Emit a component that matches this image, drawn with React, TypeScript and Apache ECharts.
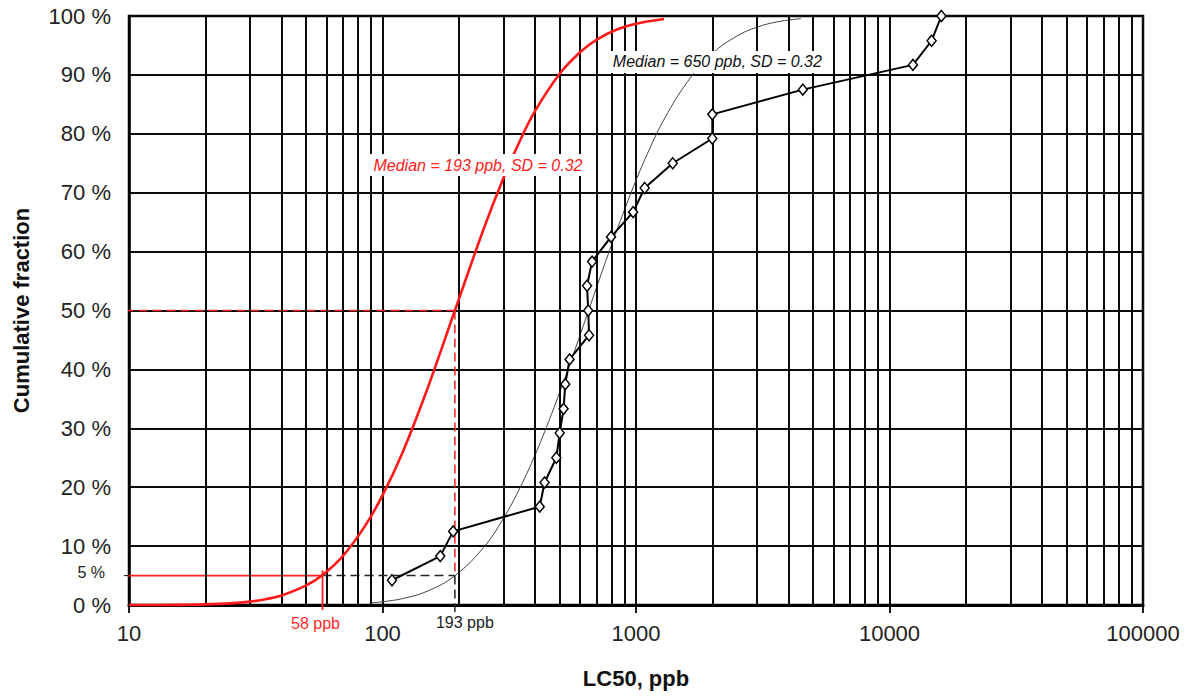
import React, { useEffect, useRef } from "react";
import * as echarts from "echarts";

// ---- data ----
const xAxisTicks = [10, 100, 1000, 10000, 100000];
const minorGridValues = [
  20, 30, 40, 50, 60, 70, 80, 90,
  200, 300, 400, 500, 600, 700, 800, 900,
  2000, 3000, 4000, 5000, 6000, 7000, 8000, 9000,
  20000, 30000, 40000, 50000, 60000, 70000, 80000, 90000,
];

// observed LC50 values (ppb) and their cumulative fraction (%)
const observedLC50 = [109, 169, 190, 417, 436, 485, 500, 518, 526, 547, 653, 648, 641, 671, 797, 974, 1082, 1396, 2000, 2000, 4550, 12370, 14660, 16020];
const observedFraction = [4.2, 8.3, 12.5, 16.7, 20.8, 25.0, 29.2, 33.3, 37.5, 41.7, 45.8, 50.0, 54.2, 58.3, 62.5, 66.7, 70.8, 75.0, 79.2, 83.3, 87.5, 91.7, 95.8, 100];

// red fitted curve (median 193 ppb)
const redCurveX = [10, 15, 20, 25, 30, 35, 40, 50, 58, 70, 85, 100, 120, 150, 193, 250, 300, 350, 400, 500, 600, 700, 850, 1000, 1290];
const redCurveY = [0.003, 0.026, 0.105, 0.28, 0.575, 1.03, 1.63, 3.34, 5.1, 8.4, 13.3, 18.6, 25.9, 36.6, 50, 63.7, 72.5, 79.0, 83.9, 90.2, 93.8, 96.0, 97.8, 98.7, 99.5];

// thin black fitted curve (median 650 ppb)
const thinCurveX = [89, 100, 120, 150, 193, 250, 300, 350, 400, 450, 500, 575, 650, 750, 850, 1000, 1150, 1300, 1600, 2000, 2500, 3000, 3600, 4470];
const thinCurveY = [0.35, 0.55, 1.09, 2.33, 4.97, 9.73, 14.71, 20.05, 25.5, 30.9, 36.1, 43.4, 50, 57.7, 64.2, 72.1, 78.1, 82.7, 88.9, 93.6, 96.6, 98.1, 99.0, 99.56];

// reference lines
const red5Line = [[9.6, 5], [58, 5]];
const red58Vertical = [[58, -0.85], [58, 5.9]];
const black5Dashed = [[58, 5], [193, 5]];
const black193Vertical = [[193, 5], [193, -1.2]];
const red50Dashed = [[9.6, 50], [193, 50]];
const red193Vertical = [[193, 50], [193, 5]];

const redLabel = "Median = 193 ppb, SD = 0.32";
const blackLabel = "Median = 650 ppb, SD = 0.32";
const redLabelAt = [238, 74.7];
const blackLabelAt = [2094, 92.2];

const FONT = "'Liberation Sans', Arial, sans-serif";

const zip = (xs: number[], ys: number[]) => xs.map((x, i) => [x, ys[i]]);

export default function App() {
  const ref = useRef<HTMLDivElement>(null);
  useEffect(() => {
    document.body.style.margin = "0";
    const chart = echarts.init(ref.current!, null, { renderer: "svg" });
    const refLine = (data: number[][], color: string, dashed: boolean, width = 1.6) => ({
      type: "line",
      data,
      symbol: "none",
      clip: false,
      silent: true,
      z: 4,
      lineStyle: { color, width, type: dashed ? [9, 5] : "solid" },
    });
    const gridLine = { color: "#0a0a0a", width: 2 };
    chart.setOption({
      animation: false,
      backgroundColor: "#fff",
      grid: {
        left: 129, right: 53, top: 16, bottom: 91,
        show: true, borderColor: "#000", borderWidth: 2.5,
        containLabel: false, outerBoundsMode: "none",
      },
      xAxis: {
        type: "log", logBase: 10, min: 10, max: 100000,
        name: "LC50, ppb", nameLocation: "middle", nameGap: 62,
        nameTextStyle: { fontFamily: FONT, fontSize: 22, fontWeight: "bold", color: "#111" },
        axisLine: { show: true, lineStyle: { color: "#000", width: 3 } },
        axisTick: { show: true, length: 8, lineStyle: { color: "#000", width: 1.8 } },
        axisLabel: {
          fontFamily: FONT, fontSize: 22, color: "#222", margin: 17,
          formatter: (v: number) => (xAxisTicks.includes(v) ? String(v) : ""),
        },
        splitLine: { show: true, lineStyle: gridLine },
      },
      yAxis: {
        type: "value", min: 0, max: 100, interval: 10,
        name: "Cumulative fraction", nameLocation: "middle", nameGap: 97,
        nameTextStyle: { fontFamily: FONT, fontSize: 22, fontWeight: "bold", color: "#111" },
        axisLine: { show: true, lineStyle: { color: "#000", width: 2.5 } },
        axisTick: { show: false },
        axisLabel: { fontFamily: FONT, fontSize: 22, color: "#222", margin: 18, formatter: "{value} %" },
        splitLine: { show: true, lineStyle: gridLine },
      },
      series: [
        {
          type: "line", data: [], silent: true, z: 1,
          markLine: {
            silent: true, symbol: "none", animation: false,
            label: { show: false },
            lineStyle: { ...gridLine, type: "solid" },
            data: minorGridValues.map((v) => ({ xAxis: v })),
          },
        },
        {
          type: "line", data: zip(thinCurveX, thinCurveY), symbol: "none", smooth: 0.4, z: 3,
          lineStyle: { color: "#444", width: 1 },
        },
        refLine(red50Dashed, "#ff2020", true, 1.5),
        refLine(red193Vertical, "#ff2020", true, 1.5),
        refLine(black5Dashed, "#222", true, 1.5),
        refLine(black193Vertical, "#222", true, 1.5),
        refLine(red5Line, "#ff2020", false, 1.8),
        refLine(red58Vertical, "#ff2020", false, 1.8),
        {
          type: "line", data: zip(redCurveX, redCurveY), symbol: "none", smooth: 0.4, z: 5, clip: false,
          lineStyle: { color: "#ff1a1a", width: 2.6 },
        },
        {
          type: "line", data: zip(observedLC50, observedFraction), z: 6,
          symbol: "diamond", symbolSize: [9, 11], clip: false,
          lineStyle: { color: "#000", width: 2 },
          itemStyle: { color: "#fff", borderColor: "#000", borderWidth: 1.5 },
        },
      ],
    });

    const px = (p: number[]) => chart.convertToPixel({ gridIndex: 0 }, p) as number[];
    const p5 = px([10, 5]);
    const p58 = px([58, 0]);
    const p193 = px([193, 0]);
    const pr = px(redLabelAt);
    const pb = px(blackLabelAt);
    chart.setOption({
      graphic: [
        { type: "text", x: p5[0] - 24, y: p5[1] - 3, z: 10,
          style: { text: "5 %", font: `16px ${FONT}`, fill: "#222", align: "right", verticalAlign: "middle" } },
        { type: "line", z: 10, shape: { x1: p5[0] - 5, y1: p5[1], x2: p5[0], y2: p5[1] }, style: { stroke: "#222", lineWidth: 1.2 } },
        { type: "text", x: p58[0] - 7, y: p58[1] + 18, z: 10,
          style: { text: "58 ppb", font: `16px ${FONT}`, fill: "#ff2a2a", align: "center", verticalAlign: "middle" } },
        { type: "text", x: p193[0] + 10, y: p193[1] + 17, z: 10,
          style: { text: "193 ppb", font: `16px ${FONT}`, fill: "#222", align: "center", verticalAlign: "middle" } },
        { type: "text", x: pr[0], y: pr[1], z: 10,
          style: { text: redLabel, font: `italic 16px ${FONT}`, fill: "#ff2020", align: "center", verticalAlign: "middle",
            backgroundColor: "#fff", padding: [3, 4] } },
        { type: "text", x: pb[0], y: pb[1], z: 10,
          style: { text: blackLabel, font: `italic 16px ${FONT}`, fill: "#111", align: "center", verticalAlign: "middle",
            backgroundColor: "#fff", padding: [3, 4] } },
      ],
    });
    return () => chart.dispose();
  }, []);
  return <div ref={ref} style={{ width: 1196, height: 696 }} />;
}
